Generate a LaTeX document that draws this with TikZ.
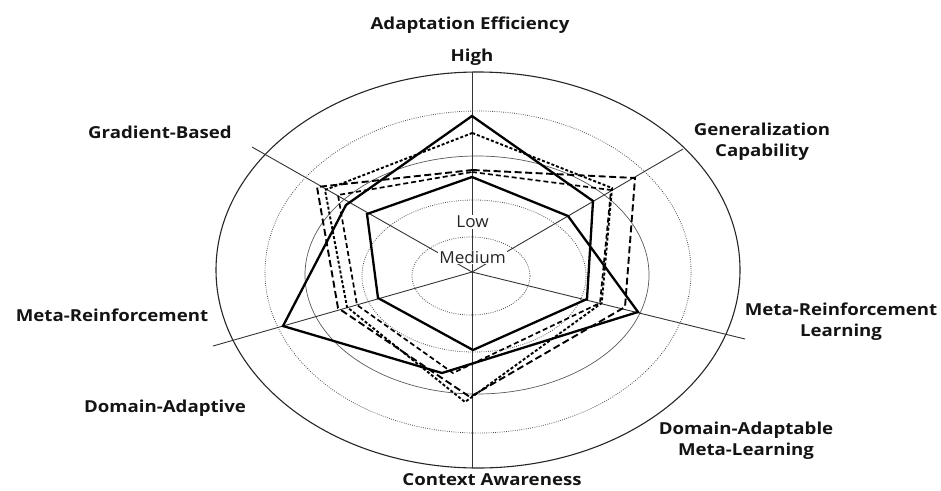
\documentclass[tikz,border=0pt]{standalone}
\usepackage{fontspec}
\newfontfamily\labfont{Open Sans}[UprightFont={* Bold}, FakeStretch=1.13]
\newfontfamily\regfont{Open Sans}[FakeStretch=1.04]
\begin{document}
\begin{tikzpicture}[x=1pt,y=-1pt,
  ring/.style={line width=0.7pt, draw=black!65},
  outerring/.style={line width=1.1pt, draw=black!85},
  dotring/.style={line width=0.8pt, draw=black!70, dash pattern=on 0.8pt off 1.4pt},
  axisline/.style={line width=0.9pt, draw=black!80},
  solidser/.style={line width=2.3pt, line join=miter, draw=black},
  dashA/.style={line width=1.9pt, draw=black, dash pattern=on 7pt off 3.5pt},
  dashB/.style={line width=1.9pt, draw=black, dash pattern=on 3pt off 2pt},
  dashC/.style={line width=1.7pt, draw=black, dash pattern=on 5pt off 3pt},
  lab/.style={font=\labfont\fontsize{16.5}{21}\selectfont, align=center, inner sep=0pt, text=black!92},
  scalelab/.style={font=\regfont\fontsize{16.5}{20}\selectfont, inner sep=1pt, fill=white, text=black!85}]
\useasboundingbox (0,0) rectangle (941,490);

% rings
\draw[outerring] (478,270) ellipse [x radius=262, y radius=198];
\draw[dotring] (478,272) ellipse [x radius=213, y radius=161];
\draw[ring] (477,275) ellipse [x radius=172, y radius=119];
\draw[dotring] (474,276) ellipse [x radius=112, y radius=76];
\draw[dotring] (471,276) ellipse [x radius=59, y radius=39];

% axes
\coordinate (c) at (472,272);
\coordinate (aU) at (472,72);
\coordinate (aUR) at (683,149);
\coordinate (aLR) at (745,339);
\coordinate (aD) at (472,468);
\coordinate (aLL) at (213,346);
\coordinate (aUL) at (252,147);
\foreach \e in {aU,aUR,aLR,aD,aLL,aUL} \draw[axisline] (c) -- (\e);

% scale labels
\node[scalelab] (low) at (472.5,222) {Low};
\node[scalelab] (med) at (472.5,257) {Medium};
\node[lab] (high) at (472,57) {High};

% series: solid
\draw[solidser] (472,116) -- (346,205) -- (283,326) -- (442,373) -- (638,312) -- (568,216)
  -- (472,177) -- (367,214) -- (378,298) -- (473,350) -- (587,299) -- (593,201) -- cycle;
% series: dashed
\draw[dashA] (472.7,170) -- (635,178) -- (625,307) -- (470,397) -- (338,308) -- (317,187) -- cycle;
\draw[dashB] (472.3,133) -- (612,188) -- (601.7,303) -- (465,402) -- (347,307) -- (325,190) -- cycle;
\draw[dashC] (472,172) -- (611,190) -- (600,303) -- (453,373) -- (357,305) -- (338,195) -- cycle;

% category labels
\node[lab] (ae) at (470,25) {Adaptation Efficiency};
\node[lab] (gb) at (160,132) {Gradient-Based};
\node[lab] (gc) at (762,142) {Generalization\\Capability};
\node[lab] (mrl) at (841,322) {Meta-Reinforcement\\Learning};
\node[lab] (mr) at (112,315) {Meta-Reinforcement};
\node[lab] (da) at (165,408) {Domain-Adaptive};
\node[lab] (daml) at (746,441) {Domain-Adaptable\\Meta-Learning};
\node[lab, anchor=base] (ca) at (492,485.5) {Context Awareness};
\end{tikzpicture}
\end{document}
